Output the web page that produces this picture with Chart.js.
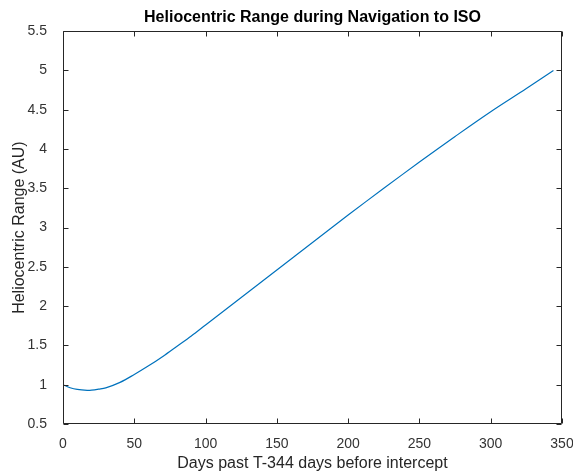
<!DOCTYPE html>
<html>
<head>
<meta charset="utf-8">
<script src="https://cdn.jsdelivr.net/npm/chart.js@4.4.1/dist/chart.umd.min.js"></script>
<style>
  html, body { margin: 0; padding: 0; background: #ffffff; }
  #wrap { width: 573px; height: 475px; position: relative; }
</style>
</head>
<body>
<div id="wrap"><canvas id="c" width="573" height="475"></canvas></div>
<script>
// ---- data ----
const days = [0, 5, 10, 17, 20, 25, 30, 40, 50, 60, 70, 80, 90, 100, 125, 150, 175, 200, 225, 250, 275, 300, 325, 344];
const rangeAU = [1.0, 0.962, 0.94, 0.928, 0.93, 0.943, 0.96, 1.03, 1.13, 1.24, 1.36, 1.49, 1.62, 1.76, 2.11, 2.46, 2.81, 3.16, 3.50, 3.835, 4.16, 4.475, 4.77, 5.0];
const xTickValues = [0, 50, 100, 150, 200, 250, 300, 350];
const yTickValues = [0.5, 1, 1.5, 2, 2.5, 3, 3.5, 4, 4.5, 5, 5.5];
const titleText = 'Heliocentric Range during Navigation to ISO';
const xLabel = 'Days past T-344 days before intercept';
const yLabel = 'Heliocentric Range (AU)';

const points = days.map((d, i) => ({ x: d, y: rangeAU[i] }));

Chart.defaults.font.family = '"Liberation Sans", Arial, Helvetica, sans-serif';

const axisColor = '#262626';

// MATLAB-style box with inward ticks on all four sides
const boxTicks = {
  id: 'boxTicks',
  afterDatasetsDraw(chart) {
    const { ctx, chartArea: a } = chart;
    const xs = chart.scales.x, ys = chart.scales.y;
    const L = 5;
    ctx.save();
    ctx.strokeStyle = axisColor;
    ctx.lineWidth = 1;
    ctx.beginPath();
    const l = Math.round(a.left) + 0.5, r = Math.round(a.right) - 0.5;
    const t = Math.round(a.top) + 0.5, b = Math.round(a.bottom) - 0.5;
    ctx.rect(l, t, r - l, b - t);
    xTickValues.forEach(v => {
      const px = Math.round(xs.getPixelForValue(v)) + 0.5;
      ctx.moveTo(px, b); ctx.lineTo(px, b - L);
      ctx.moveTo(px, t); ctx.lineTo(px, t + L);
    });
    yTickValues.forEach(v => {
      const py = Math.round(ys.getPixelForValue(v)) + 0.5;
      ctx.moveTo(l, py); ctx.lineTo(l + L, py);
      ctx.moveTo(r, py); ctx.lineTo(r - L, py);
    });
    ctx.stroke();
    ctx.restore();
  }
};

new Chart(document.getElementById('c'), {
  type: 'line',
  data: {
    datasets: [{
      data: points,
      borderColor: '#0072BD',
      borderWidth: 1.2,
      pointRadius: 0,
      fill: false,
      tension: 0.35
    }]
  },
  options: {
    responsive: false,
    animation: false,
    devicePixelRatio: 1,
    layout: { padding: { left: 0, right: 0, top: 0, bottom: 0 } },
    plugins: {
      legend: { display: false },
      tooltip: { enabled: false },
      title: {
        display: true,
        text: titleText,
        fullSize: false,
        color: '#000000',
        font: { size: 16, weight: 'bold' },
        padding: { top: 8, bottom: 4 }
      }
    },
    scales: {
      x: {
        type: 'linear',
        min: 0, max: 350,
        afterBuildTicks: s => { s.ticks = xTickValues.map(v => ({ value: v })); },
        afterFit: s => { s.height = 51; s.paddingRight = 11; s.paddingLeft = 0; },
        grid: { display: false },
        border: { display: false },
        ticks: { color: '#333333', font: { size: 14 }, padding: 4, maxRotation: 0, callback: v => String(v) },
        title: { display: true, text: xLabel, color: '#262626', font: { size: 16 }, padding: { top: 0, bottom: 1.5 } }
      },
      y: {
        type: 'linear',
        min: 0.5, max: 5.5,
        afterBuildTicks: s => { s.ticks = yTickValues.map(v => ({ value: v })); },
        afterFit: s => { s.width = 63; },
        grid: { display: false },
        border: { display: false },
        ticks: { color: '#333333', font: { size: 14 }, padding: 8, callback: v => String(v) },
        title: { display: true, text: yLabel, color: '#262626', font: { size: 16 }, padding: { top: 10.4, bottom: 0 } }
      }
    }
  },
  plugins: [boxTicks]
});
</script>
</body>
</html>
